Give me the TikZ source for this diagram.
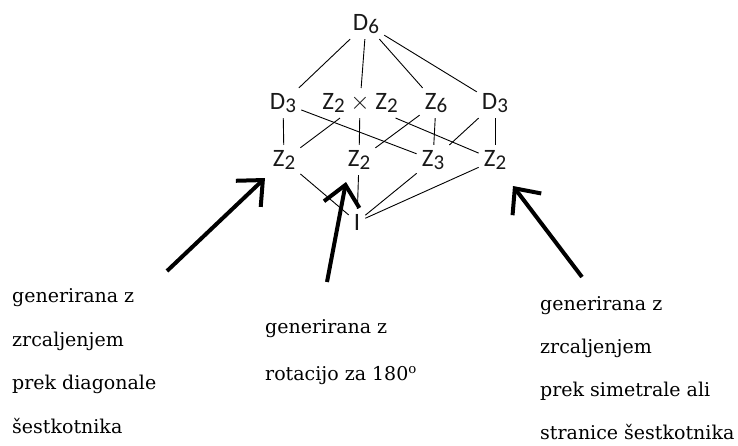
\documentclass[tikz,border=0pt]{standalone}
\usepackage{fontspec}
\setmainfont{DejaVu Serif}
\newfontfamily\grpfont{Carlito}
\usetikzlibrary{arrows.meta}
\newcommand{\gsub}[1]{\raisebox{-0.3ex}{\fontsize{21}{21}\selectfont #1}}

\begin{document}
\begin{tikzpicture}[x=1pt, y=-1pt,
  grp/.style={inner sep=5pt, font=\grpfont\fontsize{25}{25}\selectfont, text=black!90},
  edge/.style={line width=0.9pt},
  pointer/.style={-{Straight Barb[length=20pt, width=36pt]}, line width=4pt},
  note/.style={anchor=base west, align=left, inner sep=0pt, font=\fontsize{19}{43.5}\selectfont},
]
\useasboundingbox (0,0) rectangle (738,445);

% Subgroup lattice
\node[grp] (d6) at (366,24) {D\gsub{6}};
\node[grp] (d3a) at (283,103) {D\gsub{3}};
\node[grp] (klein) at (360,103) {Z\gsub{2} $\times$ Z\gsub{2}};
\node[grp] (z6) at (436,103) {Z\gsub{6}};
\node[grp] (d3b) at (495,103) {D\gsub{3}};
\node[grp] (z2a) at (284,160) {Z\gsub{2}};
\node[grp] (z2b) at (359,160) {Z\gsub{2}};
\node[grp] (z3) at (433,160) {Z\gsub{3}};
\node[grp] (z2c) at (495,160) {Z\gsub{2}};
\node[grp] (triv) at (357,222) {I};

% Inclusions
\draw[edge] (d6) -- (d3a);
\draw[edge] (d6) -- (klein);
\draw[edge] (d6) -- (z6);
\draw[edge] (d6) -- (d3b);

\draw[edge] (d3a) -- (z2a);
\draw[edge] (d3a) -- (z3);
\draw[edge] (klein) -- (z2a);
\draw[edge] (klein) -- (z2b);
\draw[edge] (klein) -- (z2c);
\draw[edge] (z6) -- (z2b);
\draw[edge] (z6) -- (z3);
\draw[edge] (d3b) -- (z3);
\draw[edge] (d3b) -- (z2c);

\draw[edge] (z2a) -- (triv);
\draw[edge] (z2b) -- (triv);
\draw[edge] (z3) -- (triv);
\draw[edge] (z2c) -- (triv);

% Notes (anchored at the last baseline)
\node[note] (diag) at (12,433) {generirana z\\zrcaljenjem\\prek diagonale\\šestkotnika};
\node[note, font=\fontsize{19}{47}\selectfont] (rot) at (265,380) {generirana z\\rotacijo za 180\textsuperscript{o}};
\node[note, font=\fontsize{19}{43}\selectfont] (sym) at (540,439) {generirana z\\zrcaljenjem\\prek simetrale ali\\stranice šestkotnika};

% Pointers
\coordinate (pa) at (167,271);
\coordinate (qa) at (265,178);
\coordinate (pb) at (327,282);
\coordinate (qb) at (346,182);
\coordinate (pc) at (582,277);
\coordinate (qc) at (513,186);
\draw[pointer] (pa) -- (qa);
\draw[pointer] (pb) -- (qb);
\draw[pointer] (pc) -- (qc);

\end{tikzpicture}
\end{document}
